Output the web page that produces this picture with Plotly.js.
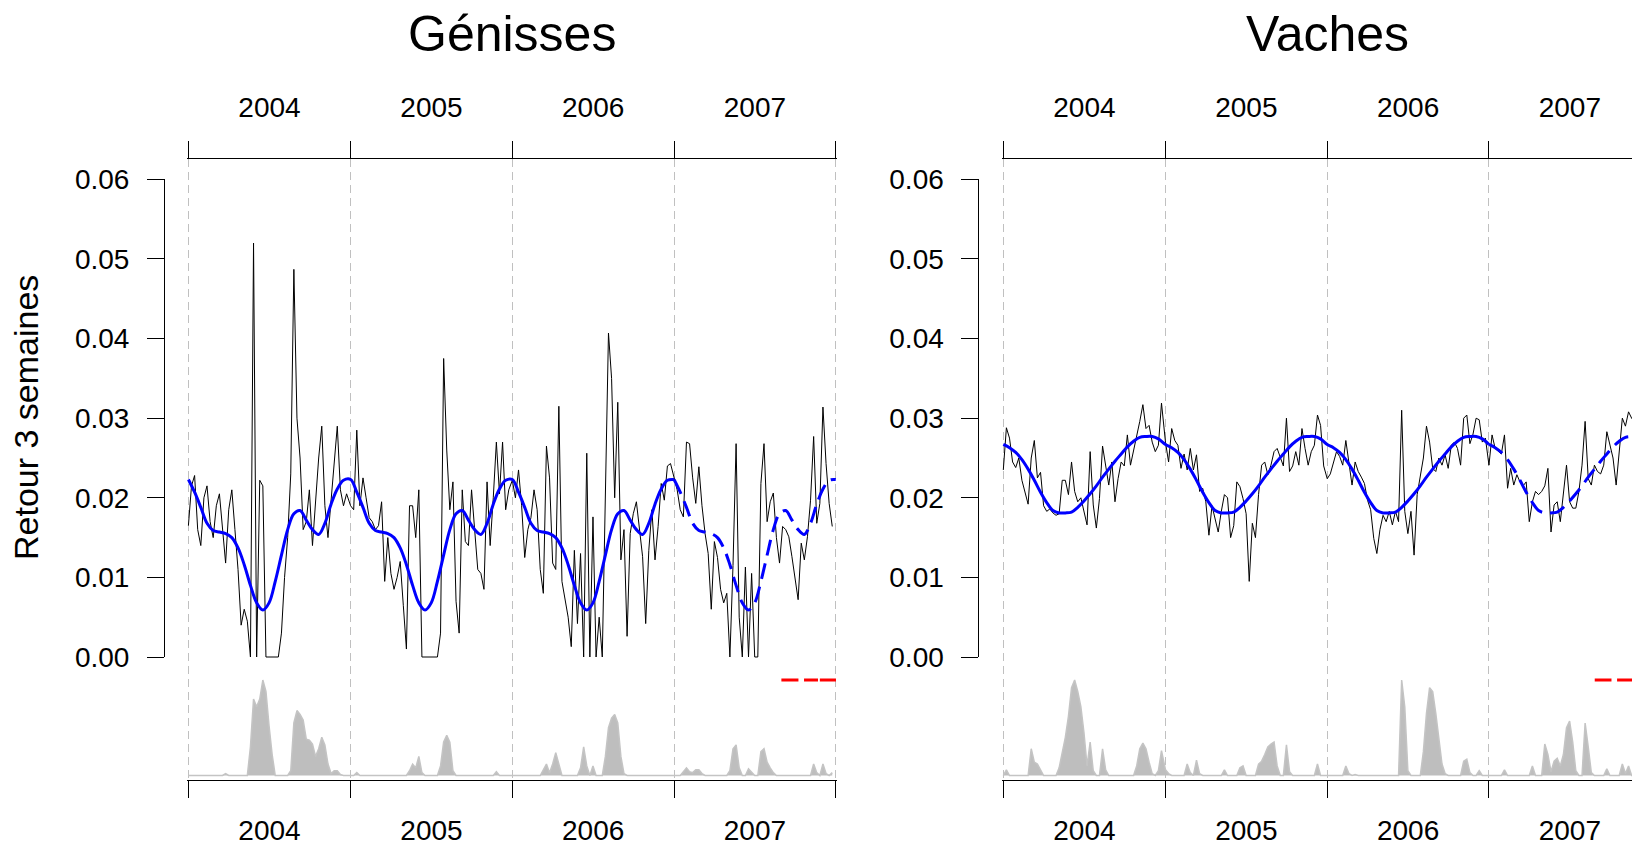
<!DOCTYPE html>
<html><head><meta charset="utf-8">
<script src="https://cdn.plot.ly/plotly-3.0.1.min.js"></script>
<style>html,body{margin:0;padding:0;overflow:hidden;background:#fff}</style>
</head><body>
<div id="chart" style="width:1680px;height:846px"></div>
<script>
// ---------------- DATA ----------------
const years = [2004, 2005, 2006, 2007];
const yTickVals = [0, 0.01, 0.02, 0.03, 0.04, 0.05, 0.06];
const yTickText = ['0.00', '0.01', '0.02', '0.03', '0.04', '0.05', '0.06'];
const panelTitles = ['Génisses', 'Vaches'];
const yTitle = 'Retour 3 semaines';

// Génisses — weekly observed rate (one value per week)
const gen2004 = [0.0165,0.0215,0.0228,0.0160,0.0140,0.0200,0.0215,0.0170,0.0150,0.0190,0.0205,0.0160,0.0118,0.0185,0.0210,0.0160,0.0110,0.0040,0.0060,0.0045,0.0000,0.0520,0.0000,0.0222,0.0215,0.0000,0.0000,0.0000,0.0000,0.0000,0.0030,0.0100,0.0150,0.0230,0.0487,0.0300,0.0250,0.0160,0.0170,0.0210,0.0140,0.0200,0.0250,0.0290,0.0190,0.0150,0.0200,0.0240,0.0290,0.0210,0.0190,0.0205];
const gen2005 = [0.0190,0.0185,0.0285,0.0190,0.0225,0.0200,0.0175,0.0170,0.0160,0.0165,0.0195,0.0095,0.0150,0.0105,0.0085,0.0100,0.0120,0.0065,0.0010,0.0190,0.0190,0.0150,0.0210,0.0000,0.0000,0.0000,0.0000,0.0000,0.0000,0.0030,0.0375,0.0260,0.0185,0.0220,0.0070,0.0030,0.0210,0.0145,0.0140,0.0210,0.0165,0.0110,0.0105,0.0085,0.0220,0.0140,0.0200,0.0270,0.0205,0.0270,0.0185,0.0210];
const gen2006 = [0.0222,0.0200,0.0235,0.0190,0.0125,0.0160,0.0175,0.0210,0.0185,0.0110,0.0080,0.0265,0.0225,0.0118,0.0110,0.0315,0.0095,0.0070,0.0050,0.0013,0.0134,0.0042,0.0130,0.0000,0.0256,0.0000,0.0176,0.0000,0.0050,0.0000,0.0200,0.0407,0.0350,0.0200,0.0320,0.0122,0.0160,0.0026,0.0155,0.0180,0.0195,0.0158,0.0126,0.0042,0.0134,0.0185,0.0122,0.0164,0.0218,0.0197,0.0240,0.0243];
const gen2007 = [0.0227,0.0210,0.0185,0.0176,0.0270,0.0268,0.0225,0.0193,0.0239,0.0190,0.0155,0.0130,0.0060,0.0145,0.0125,0.0085,0.0068,0.0080,0.0000,0.0115,0.0268,0.0050,0.0000,0.0113,0.0000,0.0105,0.0000,0.0000,0.0218,0.0268,0.0170,0.0195,0.0206,0.0150,0.0118,0.0164,0.0160,0.0151,0.0126,0.0101,0.0072,0.0143,0.0122,0.0151,0.0197,0.0277,0.0168,0.0193,0.0314,0.0243,0.0193,0.0164];

// Vaches — weekly observed rate
const vac2004 = [0.0235,0.0288,0.0275,0.0245,0.0238,0.0250,0.0222,0.0208,0.0192,0.0250,0.0272,0.0225,0.0232,0.0190,0.0183,0.0186,0.0181,0.0178,0.0180,0.0222,0.0222,0.0204,0.0245,0.0208,0.0195,0.0200,0.0183,0.0166,0.0258,0.0191,0.0162,0.0199,0.0265,0.0241,0.0216,0.0245,0.0195,0.0224,0.0245,0.0240,0.0279,0.0241,0.0258,0.0279,0.0296,0.0317,0.0287,0.0291,0.0270,0.0258,0.0266,0.0319];
const vac2005 = [0.0270,0.0245,0.0287,0.0272,0.0266,0.0237,0.0255,0.0235,0.0262,0.0235,0.0254,0.0208,0.0212,0.0195,0.0153,0.0190,0.0174,0.0157,0.0183,0.0204,0.0200,0.0150,0.0165,0.0220,0.0214,0.0199,0.0180,0.0095,0.0168,0.0150,0.0204,0.0241,0.0245,0.0229,0.0241,0.0258,0.0262,0.0250,0.0240,0.0300,0.0233,0.0240,0.0258,0.0241,0.0287,0.0262,0.0241,0.0258,0.0266,0.0304,0.0291,0.0240];
const vac2006 = [0.0224,0.0230,0.0245,0.0258,0.0252,0.0241,0.0272,0.0245,0.0216,0.0245,0.0233,0.0226,0.0218,0.0197,0.0185,0.0149,0.0130,0.0160,0.0178,0.0170,0.0183,0.0166,0.0183,0.0170,0.0310,0.0183,0.0155,0.0183,0.0128,0.0204,0.0225,0.0250,0.0290,0.0270,0.0237,0.0233,0.0250,0.0241,0.0254,0.0237,0.0266,0.0270,0.0262,0.0241,0.0300,0.0304,0.0268,0.0280,0.0300,0.0298,0.0270,0.0275];
const vac2007 = [0.0241,0.0279,0.0262,0.0258,0.0255,0.0279,0.0212,0.0237,0.0216,0.0229,0.0220,0.0215,0.0220,0.0170,0.0195,0.0208,0.0204,0.0208,0.0215,0.0237,0.0157,0.0191,0.0195,0.0170,0.0204,0.0241,0.0195,0.0187,0.0187,0.0208,0.0241,0.0296,0.0224,0.0216,0.0241,0.0233,0.0230,0.0241,0.0283,0.0266,0.0250,0.0216,0.0258,0.0300,0.0290,0.0308,0.0300,0.0295];

// Seasonal fitted curve (blue), one value every two weeks over one year
const genSeason = [0.0223,0.0207,0.0188,0.0168,0.0159,0.0157,0.0155,0.0150,0.0137,0.0116,0.0090,0.0068,0.0059,0.0068,0.0095,0.0128,0.0160,0.0180,0.0184,0.0172,0.0160,0.0154,0.0168,0.0192,0.0211,0.0222];
const vacSeason = [0.0267,0.0263,0.0257,0.0248,0.0236,0.0222,0.0207,0.0194,0.0184,0.0181,0.0181,0.0182,0.0188,0.0196,0.0205,0.0215,0.0226,0.0236,0.0246,0.0255,0.0264,0.0271,0.0276,0.0277,0.0277,0.0274];

// Grey activity profile (relative units, weekly)
const grayGen2004 = [0,0,0,0,0,0,0,0,0,0, 0,0,2,0,0,0,0,0,0,0, 30,80,72,80,100,88,52,22,0,0, 0,0,0,5,55,68,64,58,38,37, 33,20,28,40,32,12,2,5,5,1, 0,0];
const grayGen2005 = [0,0,3,0,0,0,0,0,0,0, 0,0,0,0,0,0,0,0,0,5, 12,8,20,3,0,0,0,0,0,10, 35,42,35,5,0,0,0,0,0,0, 0,0,0,0,0,0,0,4,0,0, 0,0];
const grayGen2006 = [0,0,0,0,0,0,0,0,0,0, 6,12,3,12,24,12,0,0,0,0, 0,0,8,30,10,0,10,0,0,0, 20,50,60,64,55,20,2,0,0,0, 0,0,0,0,0,0,0,0,0,0, 0,0];
const grayGen2007 = [0,0,0,4,8,4,3,6,6,2, 0,0,0,0,0,0,0,0,5,28, 32,8,0,0,7,4,0,0,25,28, 14,8,3,0,0,0,0,0,0,0, 0,0,0,0,0,12,3,0,12,2, 0,3];
const grayVac2004 = [0,6,0,0,0,0,0,0,0,28, 14,12,6,0,0,0,0,0,8,25, 40,62,92,100,88,72,45,10,35,5, 0,0,28,6,0,0,0,0,0,0, 0,0,0,10,28,34,28,14,2,0, 5,26];
const grayVac2005 = [6,2,0,0,0,0,0,12,3,0, 16,2,0,0,0,0,0,0,0,6, 0,0,0,0,8,10,0,0,0,0, 12,15,22,30,33,35,10,0,0,32, 4,0,0,0,0,0,0,0,0,12, 0,0];
const grayVac2006 = [0,0,0,0,0,0,10,2,0,1, 0,0,0,0,0,0,0,0,0,0, 0,0,0,0,100,72,5,0,0,0, 0,25,65,92,88,65,38,12,2,0, 0,0,0,0,15,17,3,0,0,5, 0,0];
const grayVac2007 = [0,0,0,0,0,6,0,0,0,0, 0,0,0,0,10,0,0,0,33,22, 4,15,18,10,22,50,57,35,5,0, 0,55,30,3,0,0,0,0,7,0, 0,0,0,12,2,10,0,0];

// Red alert periods in 2007 (start / end, in weeks of 2007), drawn at level 100 of the grey scale
const redGenStart = [34.6, 41.9, 47.0];
const redGenEnd   = [40.1, 46.4, 52.2];
const redVacStart = [34.1, 41.3, 47.0];
const redVacEnd   = [39.5, 46.6, 52.2];
const redLevel = 100;

// ---------------- HELPERS ----------------
const DAY = 864e5;
function dateAt(year, days) {
  return new Date(Date.UTC(year, 0, 1) + days * DAY).toISOString().replace('T', ' ').slice(0, 19);
}
function weekly(arrs) {
  const x = [], y = [];
  arrs.forEach((a, i) => a.forEach((v, w) => { x.push(dateAt(years[i], w * 7)); y.push(v); }));
  return {x, y};
}
function season(profile, yrs) {
  const x = [], y = [];
  yrs.forEach(yr => profile.forEach((v, k) => { x.push(dateAt(yr, k * 14)); y.push(v); }));
  x.push(dateAt(yrs[yrs.length - 1] + 1, 0)); y.push(profile[0]);
  return {x, y};
}
function redSeg(starts, ends) {
  const x = [], y = [];
  starts.forEach((s, i) => {
    x.push(dateAt(2007, s * 7), dateAt(2007, ends[i] * 7), null);
    y.push(redLevel, redLevel, null);
  });
  return {x, y};
}

// ---------------- GEOMETRY ----------------
const W = 1680, H = 846;
const fx = px => px / W, fy = px => 1 - px / H;
const L0 = 188.4, L1 = 835.8, R0 = 1003.3, R1 = 1650.7;
const dayPx = (L1 - L0) / 1461;
const xRange = ['2003-12-29', '2008-01-04'];
const domL = [fx(L0 - 3 * dayPx), fx(L1 + 3 * dayPx)];
const domR = [fx(R0 - 3 * dayPx), fx(R1 + 3 * dayPx)];
const zeroPx = 657, pxPerUnit = 7960;
const mainDom = [fy(780), fy(159)];
const mainRange = [(zeroPx - 780) / pxPerUnit, (zeroPx - 159) / pxPerUnit];
const gZero = 775.5, gPx = (775.5 - 680) / 100;
const grayDom = [fy(779), fy(675)];
const grayRange = [(gZero - 779) / gPx, (gZero - 675) / gPx];
const decorDom = [fy(657), fy(179.3)];

const FONT = 'Liberation Sans, Arial, Helvetica, sans-serif';

function xAxis(domain, extra) {
  return Object.assign({
    domain: domain, range: xRange, type: 'date', anchor: 'y', side: 'bottom',
    showline: true, linecolor: '#000', linewidth: 1,
    ticks: 'outside', ticklen: 17, tickwidth: 1, tickcolor: '#000',
    dtick: 'M12', tick0: '2004-01-01', tickformat: '%Y', ticklabelmode: 'period',
    ticklabelstandoff: 8, tickfont: {size: 28, color: '#000', family: FONT},
    showgrid: true, gridcolor: '#C0C0C0', gridwidth: 1, griddash: '8px,5px',
    zeroline: false, fixedrange: true
  }, extra || {});
}
function hiddenX(domain) {
  return {domain: domain, range: xRange, type: 'date', anchor: 'y3', visible: false, fixedrange: true};
}
function decorY(pos) {
  return {
    domain: decorDom, range: [0, 0.06], anchor: 'free', position: fx(pos), side: 'left',
    showline: true, linecolor: '#000', linewidth: 1,
    ticks: 'outside', ticklen: 17, tickwidth: 1, tickcolor: '#000',
    tickvals: yTickVals, ticktext: yTickText, ticklabelstandoff: 12,
    tickfont: {size: 28, color: '#000', family: FONT},
    showgrid: false, zeroline: false, fixedrange: true
  };
}

// ---------------- TRACES ----------------
function panelTraces(obsArrs, prof, grayArrs, red, xb, xt, xh, yd) {
  const obs = weekly(obsArrs);
  const solid = season(prof, [2004, 2005, 2006]);
  const dashed = season(prof, [2007]);
  const gray = weekly(grayArrs);
  const common = {mode: 'lines', hoverinfo: 'skip', showlegend: false};
  return [
    Object.assign({x: gray.x, y: gray.y, xaxis: xh, yaxis: 'y3', fill: 'tozeroy',
      fillcolor: '#BEBEBE', line: {color: '#C4C4C4', width: 1.5}}, common),
    Object.assign({x: red.x, y: red.y, xaxis: xh, yaxis: 'y3',
      line: {color: '#FF0000', width: 3}}, common),
    Object.assign({x: obs.x, y: obs.y, xaxis: xb, yaxis: 'y',
      line: {color: '#000', width: 1}}, common),
    Object.assign({x: solid.x, y: solid.y, xaxis: xt, yaxis: 'y',
      line: {color: '#0000FF', width: 3, shape: 'spline', smoothing: 1}}, common),
    Object.assign({x: dashed.x, y: dashed.y, xaxis: xt, yaxis: 'y',
      line: {color: '#0000FF', width: 3, shape: 'spline', smoothing: 1, dash: '16px,8px'}}, common),
    Object.assign({x: [obs.x[0]], y: [0], xaxis: xh, yaxis: yd, mode: 'markers',
      marker: {size: 1, color: 'rgba(0,0,0,0)'}, hoverinfo: 'skip', showlegend: false})
  ];
}

const traces = [].concat(
  panelTraces([gen2004, gen2005, gen2006, gen2007], genSeason,
    [grayGen2004, grayGen2005, grayGen2006, grayGen2007], redSeg(redGenStart, redGenEnd), 'x', 'x2', 'x3', 'y5'),
  panelTraces([vac2004, vac2005, vac2006, vac2007], vacSeason,
    [grayVac2004, grayVac2005, grayVac2006, grayVac2007], redSeg(redVacStart, redVacEnd), 'x4', 'x5', 'x6', 'y6')
);

const layout = {
  width: W, height: H, autosize: false,
  margin: {l: 0, r: 0, t: 0, b: 0, pad: 0},
  paper_bgcolor: '#fff', plot_bgcolor: 'rgba(0,0,0,0)',
  font: {family: FONT, color: '#000', size: 28},
  showlegend: false, hovermode: false,
  xaxis: xAxis(domL),
  xaxis2: xAxis(domL, {overlaying: 'x', side: 'top', showgrid: false, ticklabelstandoff: 13}),
  xaxis3: hiddenX(domL),
  xaxis4: xAxis(domR),
  xaxis5: xAxis(domR, {overlaying: 'x4', side: 'top', showgrid: false, ticklabelstandoff: 13}),
  xaxis6: hiddenX(domR),
  yaxis: {domain: mainDom, range: mainRange, anchor: 'x', visible: false, fixedrange: true},
  yaxis3: {domain: grayDom, range: grayRange, anchor: 'x3', visible: false, fixedrange: true},
  yaxis5: decorY(164),
  yaxis6: decorY(978.4),
  annotations: [
    {text: panelTitles[0], xref: 'paper', yref: 'paper', x: fx((L0 + L1) / 2), y: fy(34),
     xanchor: 'center', yanchor: 'middle', showarrow: false, font: {size: 50, family: FONT, color: '#000'}},
    {text: panelTitles[1], xref: 'paper', yref: 'paper', x: fx((R0 + R1) / 2), y: fy(34),
     xanchor: 'center', yanchor: 'middle', showarrow: false, font: {size: 50, family: FONT, color: '#000'}},
    {text: yTitle, xref: 'paper', yref: 'paper', x: fx(26), y: fy(418), textangle: -90,
     xanchor: 'center', yanchor: 'middle', showarrow: false, font: {size: 34, family: FONT, color: '#000'}}
  ]
};

Plotly.newPlot('chart', traces, layout, {displayModeBar: false, staticPlot: true});
</script>
</body></html>
